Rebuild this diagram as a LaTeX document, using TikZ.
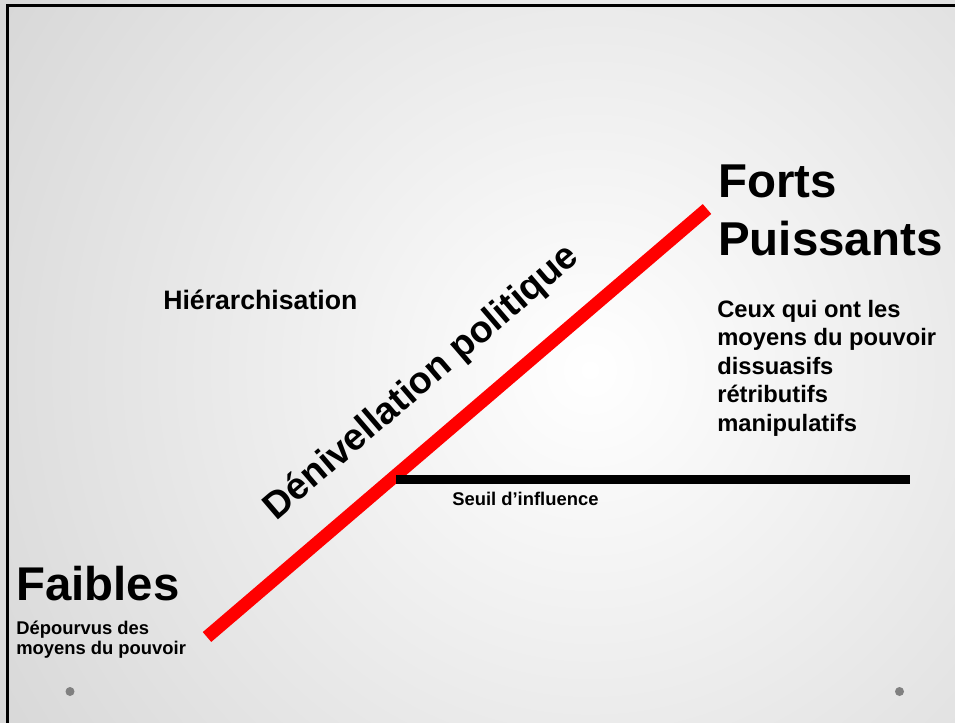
\documentclass[tikz,border=0pt]{standalone}
\usepackage{fontspec}
\setmainfont{Liberation Sans}
\usetikzlibrary{positioning,calc}

\begin{document}
\begin{tikzpicture}[x=0.75pt,y=-0.75pt,
  every node/.style={inner sep=0pt,anchor=base west,font=\bfseries},
  big/.style={font=\fontsize{35.6}{42}\selectfont\bfseries},
  small/.style={font=\fontsize{13.8}{16}\selectfont\bfseries},
  mid/.style={font=\fontsize{17.8}{20}\selectfont\bfseries}]
 \useasboundingbox (0,0) rectangle (955,722);
 \clip (0,0) rectangle (955,722);
 % background and frame
 \fill[inner color=white,outer color=gray!32] (590,370) circle (720);
 \draw[line width=2.25pt] (7.3,5.3) rectangle (1000,800);
 \fill[gray] (70,691.5) circle (4.5);
 \fill[gray] (899.5,691.5) circle (4.5);

 % lines
 \coordinate (low) at (207,637);
 \coordinate (high) at (707,209);
 \draw[red,line width=9.75pt] (low)--(high);
 \coordinate (seuilL) at (396,479.5);
 \coordinate (seuilR) at (910,479.5);
 \draw[line width=6.75pt] (seuilL)--(seuilR);

 % labels
 \node[font=\fontsize{28.2}{34}\selectfont\bfseries,anchor=center,rotate=40.6] (deniv) at (422,383) {Dénivellation politique};
 \node[font=\fontsize{20}{23}\selectfont\bfseries] (hier) at (163,309) {Hiérarchisation};
 \node[small] (seuil) at (452,505) {Seuil d’influence};

 \node[big] (forts) at (718,197) {Forts};
 \node[big] (puiss) at (718,255) {Puissants};
 \node[mid] (ceux1) at (717,317) {Ceux qui ont les};
 \node[mid] (ceux2) at (717,345.5) {moyens du pouvoir};
 \node[mid] (ceux3) at (717,374) {dissuasifs};
 \node[mid] (ceux4) at (717,402.5) {rétributifs};
 \node[mid] (ceux5) at (717,431) {manipulatifs};

 \node[font=\fontsize{35.5}{40}\selectfont\bfseries] (faib) at (16,600) {Faibles};
 \node[small] (dep1) at (16,634) {Dépourvus des};
 \node[small] (dep2) at (16,654) {moyens du pouvoir};
\end{tikzpicture}
\end{document}
